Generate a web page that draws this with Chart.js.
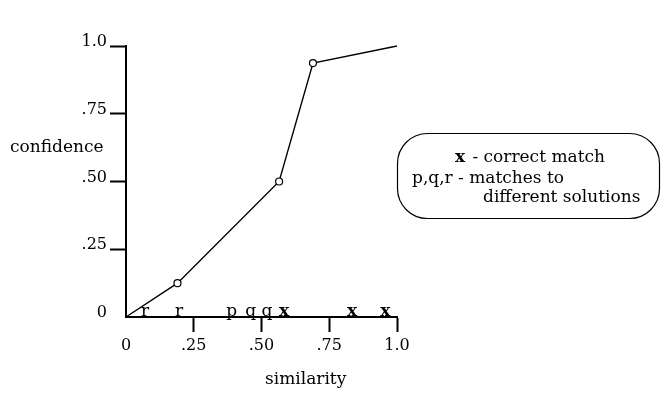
<!DOCTYPE html>
<html>
<head>
<meta charset="utf-8">
<script src="https://cdn.jsdelivr.net/npm/chart.js@4.4.1/dist/chart.umd.min.js"></script>
<style>
  body { margin: 0; background: #fff; }
  #wrap { width: 668px; height: 394px; }
</style>
</head>
<body>
<div id="wrap"><canvas id="confChart" width="668" height="394"></canvas></div>
<script>
// curve: confidence vs similarity
const curveX = [0, 0.19, 0.565, 0.69, 1.0];
const curveY = [0, 0.125, 0.5, 0.937, 1.0];
const curveMarker = [false, true, true, true, false];

// matches along the similarity axis
const matchX = [0.07, 0.196, 0.39, 0.46, 0.52, 0.583, 0.834, 0.957];
const matchLetter = ['r', 'r', 'p', 'q', 'q', 'x', 'x', 'x'];

const tickValues = [0, 0.25, 0.5, 0.75, 1.0];
const tickLabels = ['0', '.25', '.50', '.75', '1.0'];

const serif = "'DejaVu Serif', serif";

function fmt(v) {
  const i = tickValues.findIndex(t => Math.abs(t - v) < 1e-6);
  return i >= 0 ? tickLabels[i] : '';
}

const extras = {
  id: 'extras',
  afterDraw(chart) {
    const ctx = chart.ctx;
    const xs = chart.scales.x, ys = chart.scales.y;
    ctx.save();
    ctx.fillStyle = '#000';
    ctx.textBaseline = 'alphabetic';

    // letters sitting on the axis
    const base = ys.getPixelForValue(0) - 1;
    ctx.textAlign = 'center';
    matchX.forEach((v, i) => {
      const l = matchLetter[i];
      ctx.font = (l === 'x' ? 'bold 17px ' : '17px ') + serif;
      ctx.fillText(l, xs.getPixelForValue(v), base);
    });

    // axis titles
    ctx.textAlign = 'left';
    ctx.font = '17px ' + serif;
    ctx.fillText('confidence', 10, 152);
    ctx.fillText('similarity', 265, 384);

    // key box
    ctx.strokeStyle = '#000';
    ctx.lineWidth = 1.2;
    ctx.beginPath();
    ctx.roundRect(397.5, 133.5, 262, 85, 30);
    ctx.stroke();

    ctx.font = 'bold 17px ' + serif;
    ctx.fillText('x', 455, 162);
    ctx.font = '17px ' + serif;
    ctx.fillText(' - correct match', 467, 162);
    ctx.fillText('p,q,r - matches to', 412, 183);
    ctx.fillText('different solutions', 483, 202);
    ctx.restore();
  }
};

const noZero = c => (c.tick && c.tick.value === 0) ? 'rgba(0,0,0,0)' : '#000';

new Chart(document.getElementById('confChart'), {
  type: 'line',
  data: {
    datasets: [{
      data: curveX.map((x, i) => ({ x: x, y: curveY[i] })),
      borderColor: '#000',
      borderWidth: 1.4,
      tension: 0,
      fill: false,
      pointRadius: curveMarker.map(m => m ? 3.5 : 0),
      pointBackgroundColor: '#fff',
      pointBorderColor: '#000',
      pointBorderWidth: 1.2,
      clip: false
    }]
  },
  options: {
    responsive: false,
    animation: false,
    layout: { padding: { top: 46, left: 0, right: 271, bottom: 0 } },
    plugins: { legend: { display: false }, tooltip: { enabled: false } },
    scales: {
      x: {
        type: 'linear',
        min: 0, max: 1,
        afterFit: s => { s.height = 77; },
        afterBuildTicks: s => { s.ticks = tickValues.map(v => ({ value: v })); },
        border: { display: true, color: '#000', width: 2 },
        grid: { drawOnChartArea: false, drawTicks: true, tickLength: 15, tickWidth: 2, tickColor: noZero, color: noZero },
        ticks: { color: '#000', font: { family: serif, size: 16 }, padding: 4, maxRotation: 0, callback: v => fmt(v) }
      },
      y: {
        type: 'linear',
        min: 0, max: 1,
        afterFit: s => { s.width = 126; },
        afterBuildTicks: s => { s.ticks = tickValues.map(v => ({ value: v })); },
        border: { display: true, color: '#000', width: 2 },
        grid: { drawOnChartArea: false, drawTicks: true, tickLength: 16, tickWidth: 2, tickColor: noZero, color: noZero },
        ticks: { color: '#000', font: { family: serif, size: 16 }, padding: 3, labelOffset: -4, callback: v => fmt(v) }
      }
    }
  },
  plugins: [extras]
});
</script>
</body>
</html>
